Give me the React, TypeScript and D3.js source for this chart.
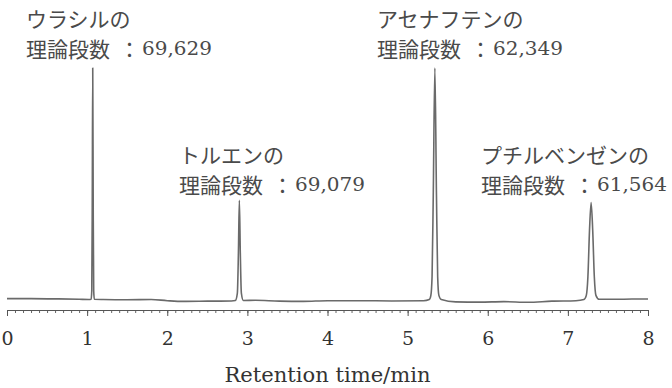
import React, { useRef, useEffect } from "react";
import * as d3 from "d3";

// chromatogram trace: [retention time (min), signal (arb.)]
const baseline1: [number, number][] = [
  [0.0, 0.6], [0.3, 0.6], [0.6, 0.5], [0.9, 0.3], [1.02, 0.2],
];
const uracilPeak: [number, number][] = [
  [1.05, 0.3], [1.058, 4], [1.064, 40], [1.07, 100], [1.076, 40], [1.082, 4], [1.09, 0.3],
];
const baseline2: [number, number][] = [
  [1.2, 0.2], [1.5, 0.1], [1.8, 0.2], [2.0, -0.3], [2.2, -0.6], [2.5, -0.5], [2.8, -0.4],
];
const toluenePeak: [number, number][] = [
  [2.85, -0.2], [2.875, 3], [2.888, 20], [2.9, 43], [2.912, 20], [2.925, 3], [2.95, -0.2],
];
const baseline3: [number, number][] = [
  [3.1, -0.1], [3.4, -0.5], [3.7, -0.6], [4.0, -0.3], [4.4, -0.3], [4.8, -0.4], [5.2, -0.3],
];
const acenaphthenePeak: [number, number][] = [
  [5.27, 0.2], [5.29, 2], [5.305, 10], [5.32, 45], [5.34, 100], [5.36, 45], [5.375, 10], [5.39, 2], [5.42, 0.2],
];
const baseline4: [number, number][] = [
  [5.6, -0.8], [5.9, -0.9], [6.2, -0.7], [6.5, -1.0], [6.8, -0.5], [7.1, -0.3],
];
const butylbenzenePeak: [number, number][] = [
  [7.2, 0.2], [7.23, 2], [7.25, 10], [7.27, 30], [7.29, 42], [7.31, 30], [7.33, 10], [7.35, 2], [7.39, 0.3],
];
const baseline5: [number, number][] = [
  [7.6, 0.3], [7.8, 0.4], [8.0, 0.4],
];

const trace = [
  ...baseline1, ...uracilPeak, ...baseline2, ...toluenePeak, ...baseline3,
  ...acenaphthenePeak, ...baseline4, ...butylbenzenePeak, ...baseline5,
];

const majorTicks = [0, 1, 2, 3, 4, 5, 6, 7, 8];
const minorTicks = d3.range(0, 81).map((i) => i / 10);

const peakLabels = [
  { name: "ウラシルの", plates: "69,629", x: 26, y: 18 },
  { name: "トルエンの", plates: "69,079", x: 179, y: 154 },
  { name: "アセナフテンの", plates: "62,349", x: 377, y: 18 },
  { name: "プチルベンゼンの", plates: "61,564", x: 481, y: 154 },
];

const xLabel = "Retention time/min";

export default function App() {
  const svgRef = useRef<SVGSVGElement>(null);

  useEffect(() => {
    const svg = d3.select(svgRef.current);
    svg.selectAll("*").remove();
    const width = 672,
      height = 388;

    svg.append("rect").attr("width", width).attr("height", height).attr("fill", "#fff");

    const x = d3.scaleLinear().domain([0, 8]).range([7, 648]);
    const y = d3.scaleLinear().domain([0, 100]).range([300, 68]);

    const line = d3
      .line<[number, number]>()
      .x((d) => x(d[0]))
      .y((d) => y(d[1]))
      .curve(d3.curveMonotoneX);

    svg.append("path")
      .datum(trace)
      .attr("fill", "none")
      .attr("stroke", "#6a6a6a")
      .attr("stroke-width", 1.6)
      .attr("stroke-linejoin", "round")
      .attr("d", line);

    // minor ticks
    const minor = svg.append("g")
      .attr("transform", `translate(0,310)`)
      .call(d3.axisBottom(x).tickValues(minorTicks).tickSize(3).tickFormat(() => ""));
    minor.select(".domain").remove();
    minor.selectAll("line").attr("stroke", "#666");

    const major = svg.append("g")
      .attr("transform", `translate(0,310)`)
      .call(
        d3.axisBottom(x)
          .tickValues(majorTicks)
          .tickSize(6)
          .tickSizeOuter(0)
          .tickPadding(16)
          .tickFormat(d3.format("d"))
      );
    major.select(".domain").attr("stroke", "#555").attr("stroke-width", 1.2);
    major.selectAll("line").attr("stroke", "#555");
    major.selectAll("text")
      .attr("fill", "#333")
      .attr("font-family", "'DejaVu Serif', serif")
      .attr("font-size", 19);

    svg.append("text")
      .attr("x", x(4))
      .attr("y", 382)
      .attr("text-anchor", "middle")
      .attr("fill", "#333")
      .attr("font-family", "'DejaVu Serif', serif")
      .attr("font-size", 20)
      .attr("textLength", 206)
      .attr("lengthAdjust", "spacingAndGlyphs")
      .text(xLabel);

    peakLabels.forEach((p) => {
      svg.append("text")
        .attr("x", p.x)
        .attr("y", p.y)
        .attr("fill", "#4a4a4a")
        .attr("dominant-baseline", "central")
        .attr("font-family", "'Noto Sans CJK JP', sans-serif")
        .attr("font-weight", 400)
        .attr("font-size", 21)
        .text(p.name);
      const t = svg.append("text")
        .attr("x", p.x)
        .attr("y", p.y + 30)
        .attr("fill", "#4a4a4a")
        .attr("dominant-baseline", "central")
        .attr("font-family", "'Noto Sans CJK JP', sans-serif")
        .attr("font-weight", 400)
        .attr("font-size", 21);
      t.append("tspan").text("理論段数");
      t.append("tspan").attr("x", p.x + 93).text("：");
      t.append("tspan")
        .attr("x", p.x + 116)
        .attr("font-family", "'DejaVu Serif', serif")
        .attr("font-size", 19)
        .attr("textLength", 70)
        .attr("lengthAdjust", "spacingAndGlyphs")
        .text(p.plates);
    });
  }, []);

  return (
    <svg
      ref={svgRef}
      width={672}
      height={388}
      style={{ position: "absolute", left: 0, top: 0 }}
    ></svg>
  );
}
